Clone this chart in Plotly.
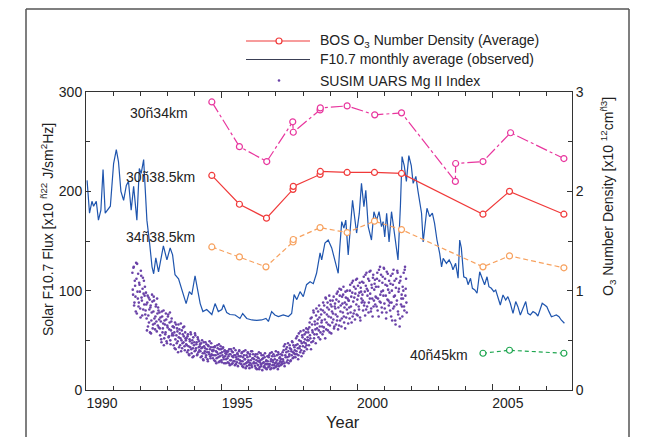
import plotly.graph_objects as go

# ---------------- data ----------------
f107_years = [1989.45, 1989.54, 1989.63, 1989.69, 1989.79, 1989.87, 1989.96, 1990.04, 1990.12, 1990.24,
              1990.31, 1990.43, 1990.53, 1990.61, 1990.70, 1990.80, 1990.90, 1990.98, 1991.08, 1991.17,
              1991.29, 1991.38, 1991.45, 1991.54, 1991.60, 1991.66, 1991.76, 1991.85, 1991.91, 1991.99,
              1992.09, 1992.15, 1992.27, 1992.40, 1992.52, 1992.61, 1992.70, 1992.83, 1992.95, 1993.11,
              1993.23, 1993.32, 1993.44, 1993.53, 1993.63, 1993.73, 1993.87, 1994.06, 1994.18, 1994.30,
              1994.43, 1994.49, 1994.61, 1994.73, 1994.92, 1995.10, 1995.20, 1995.35, 1995.54, 1995.72,
              1995.90, 1996.06, 1996.15, 1996.27, 1996.39, 1996.52, 1996.70, 1996.89, 1997.01, 1997.10,
              1997.20, 1997.32, 1997.44, 1997.56, 1997.69, 1997.81, 1997.93, 1998.06, 1998.12, 1998.24,
              1998.36, 1998.49, 1998.61, 1998.73, 1998.79, 1998.86, 1998.94, 1999.01, 1999.10, 1999.19,
              1999.26, 1999.35, 1999.41, 1999.51, 1999.59, 1999.68, 1999.75, 1999.84, 1999.96, 2000.05,
              2000.15, 2000.24, 2000.33, 2000.39, 2000.45, 2000.52, 2000.61, 2000.70, 2000.79, 2000.86,
              2000.94, 2001.03, 2001.09, 2001.17, 2001.25, 2001.34, 2001.43, 2001.50, 2001.60, 2001.68,
              2001.75, 2001.81, 2001.87, 2001.93, 2002.01, 2002.11, 2002.21, 2002.29, 2002.38, 2002.48,
              2002.55, 2002.61, 2002.73, 2002.83, 2002.92, 2002.97, 2003.07, 2003.16, 2003.22, 2003.28,
              2003.37, 2003.47, 2003.53, 2003.62, 2003.69, 2003.78, 2003.86, 2003.96, 2004.06, 2004.14,
              2004.23, 2004.30, 2004.39, 2004.48, 2004.55, 2004.63, 2004.72, 2004.82, 2004.92, 2005.00,
              2005.09, 2005.19, 2005.29, 2005.37, 2005.46, 2005.56, 2005.66, 2005.74, 2005.83, 2005.93,
              2006.03, 2006.11, 2006.20, 2006.27, 2006.36, 2006.44, 2006.52, 2006.61, 2006.69, 2006.79,
              2006.89, 2006.97, 2007.09]
f107_values = [211, 178, 190, 185, 190, 171, 181, 222, 178, 182,
               185, 228, 242, 230, 200, 191, 206, 210, 181, 205,
               171, 223, 218, 232, 205, 171, 148, 124, 117, 133,
               119, 128, 145, 131, 143, 136, 116, 112, 101, 87,
               99, 96, 115, 101, 87, 79, 81, 76, 87, 79,
               81, 86, 78, 76, 75.5, 72, 77, 72, 70.5, 70,
               70.5, 72, 69, 79, 75.5, 74, 75.5, 74, 77, 96,
               91, 99, 94, 106, 109, 107, 117.5, 138, 131, 148,
               151, 143, 131, 117.5, 144, 169.5, 163, 171, 136, 168,
               191, 171, 158, 178, 208, 184.5, 201, 164.5, 151, 179.5,
               171, 179.5, 164.5, 169.5, 154, 178, 149, 179.5, 161, 149,
               131, 186, 235, 226, 210, 236, 226, 208, 215, 200,
               188, 178, 149, 163, 183, 174.5, 178, 168, 151, 137.5,
               124, 132.5, 127.5, 131, 126, 121, 127.5, 112.5, 151, 143,
               114, 112.5, 106, 112.5, 102.4, 100.7, 97.4, 119, 111, 106,
               114, 104, 102.4, 99, 100.7, 94, 85.6, 95.7, 90.6, 94,
               87.3, 77.2, 89, 83.9, 75.5, 82.3, 89, 77.2, 75.5, 78.9,
               77.2, 74.5, 82.3, 87.3, 85.6, 83.9, 78.9, 73.8, 74.5, 75.5,
               73.8, 70.5, 67.2]

# SUSIM UARS Mg II index (scaled to left axis); two interleaved read-offs of the dot cloud,
# each sampled every 0.025 yr
mg_start_a = 1991.125
mg_start_b = 1991.1375
mg_step = 0.025
mg_values_a = [
    118, 96, 124, 88, 105, 79, 112, 127, 92, 84, 108, 99, 73, 115, 90, 102, 81, 110, 95, 76,
    98, 72, 88, 64, 93, 81, 58, 85, 70, 96, 62, 79, 90, 67, 74, 86, 59, 77, 83, 63,
    78, 55, 69, 48, 74, 62, 80, 52, 66, 58, 71, 47, 63, 76, 54, 68, 50, 60, 72, 57,
    64, 45, 58, 68, 41, 55, 62, 49, 66, 43, 57, 52, 39, 60, 47, 63, 54, 44, 58, 50,
    52, 38, 56, 44, 35, 49, 58, 41, 47, 33, 53, 45, 39, 55, 42, 48, 36, 51, 43, 40,
    46, 33, 42, 50, 37, 30, 44, 39, 48, 35, 41, 31, 45, 38, 49, 34, 43, 36, 40, 32,
    40, 30, 44, 35, 27, 38, 42, 33, 46, 29, 37, 41, 28, 35, 43, 31, 39, 34, 27, 36,
    38, 28, 34, 41, 25, 36, 30, 39, 27, 33, 42, 29, 35, 26, 31, 37, 24, 34, 40, 30,
    34, 26, 38, 29, 23, 35, 31, 40, 27, 24, 33, 37, 28, 22, 36, 30, 25, 39, 32, 27,
    31, 24, 36, 27, 21, 33, 29, 38, 23, 30, 26, 35, 20, 32, 28, 24, 37, 22, 30, 26,
    29, 23, 35, 26, 21, 31, 38, 25, 28, 22, 34, 27, 39, 24, 30, 21, 36, 27, 33, 25,
    31, 26, 38, 29, 44, 24, 35, 41, 28, 33, 47, 27, 36, 42, 30, 39, 49, 32, 45, 37,
    40, 33, 52, 36, 46, 31, 57, 42, 38, 49, 34, 55, 44, 60, 39, 51, 47, 62, 41, 53,
    58, 45, 68, 52, 41, 73, 60, 49, 78, 56, 66, 47, 82, 62, 71, 53, 85, 64, 58, 76,
    70, 56, 88, 63, 78, 52, 92, 68, 83, 60, 74, 95, 65, 86, 57, 79, 90, 71, 62, 84,
    82, 66, 97, 74, 61, 89, 102, 70, 85, 64, 94, 78, 104, 68, 88, 99, 73, 81, 92, 67,
    90, 72, 106, 84, 68, 98, 110, 77, 93, 71, 102, 86, 112, 75, 95, 81, 108, 70, 99, 88,
    96, 80, 114, 88, 75, 105, 118, 84, 100, 78, 110, 92, 120, 82, 103, 74, 116, 90, 107, 86,
    104, 84, 118, 92, 74, 110, 124, 88, 99, 78, 114, 95, 122, 82, 106, 72, 119, 91, 101, 85,
    98, 80, 115, 88, 70, 106, 121, 84, 95, 66, 112, 90, 118, 76, 102, 64, 110, 86, 96, 74,
    92, 118, 80, 124, 102, 88]
mg_values_b = [
    101, 123, 85, 110, 94, 128, 77, 99, 117, 88, 106, 82, 120, 93, 75, 113, 97, 86, 104, 80,
    86, 60, 95, 75, 68, 91, 83, 57, 78, 89, 66, 94, 72, 61, 84, 69, 92, 65, 80, 71,
    62, 73, 51, 79, 58, 67, 45, 70, 56, 77, 49, 65, 74, 53, 61, 78, 46, 69, 55, 64,
    55, 63, 42, 51, 66, 47, 59, 38, 53, 61, 45, 67, 50, 42, 56, 48, 64, 40, 52, 46,
    45, 54, 40, 36, 51, 43, 56, 37, 50, 42, 34, 48, 57, 40, 46, 35, 53, 38, 49, 44,
    39, 47, 34, 43, 31, 48, 37, 42, 33, 46, 38, 29, 44, 36, 41, 32, 47, 35, 39, 43,
    35, 43, 29, 39, 32, 45, 36, 28, 41, 34, 44, 30, 38, 42, 33, 27, 40, 37, 31, 39,
    32, 39, 27, 36, 30, 41, 26, 34, 38, 29, 35, 25, 40, 33, 28, 36, 31, 39, 27, 34,
    29, 37, 24, 33, 39, 26, 31, 22, 35, 28, 38, 30, 25, 34, 27, 39, 23, 32, 36, 28,
    27, 34, 22, 30, 36, 25, 32, 21, 28, 37, 24, 31, 27, 35, 23, 33, 26, 29, 21, 34,
    26, 33, 24, 37, 29, 22, 34, 30, 36, 25, 31, 23, 28, 35, 26, 38, 24, 32, 29, 36,
    28, 35, 31, 40, 27, 46, 33, 38, 43, 30, 39, 34, 45, 29, 41, 35, 48, 38, 33, 43,
    36, 45, 39, 54, 42, 35, 50, 44, 59, 40, 47, 53, 37, 48, 56, 43, 58, 45, 50, 61,
    50, 63, 55, 72, 48, 66, 58, 80, 52, 69, 61, 75, 56, 67, 79, 60, 73, 51, 81, 68,
    64, 80, 59, 85, 71, 93, 61, 76, 88, 66, 81, 58, 90, 73, 84, 68, 77, 94, 64, 87,
    76, 91, 70, 99, 83, 65, 95, 79, 101, 72, 87, 96, 74, 83, 62, 93, 86, 100, 77, 90,
    83, 100, 78, 94, 108, 74, 89, 104, 80, 97, 111, 76, 91, 105, 84, 98, 73, 103, 92, 109,
    90, 108, 85, 99, 116, 81, 102, 95, 112, 88, 119, 97, 79, 106, 92, 113, 84, 101, 111, 94,
    93, 112, 80, 104, 121, 89, 96, 116, 83, 108, 100, 123, 87, 112, 95, 78, 105, 117, 90, 110,
    88, 107, 74, 100, 117, 82, 94, 110, 70, 103, 86, 120, 79, 99, 108, 72, 114, 92, 84, 104,
    100, 84, 121, 95, 112, 78]
mg_years = ([mg_start_a + mg_step * i for i in range(len(mg_values_a))]
            + [mg_start_b + mg_step * i for i in range(len(mg_values_b))])
mg_values = mg_values_a + mg_values_b

# BOS O3 number density [x10^12 cm^-3] (right axis)
bos_30_34_years = [1994.06, 1995.08, 1996.09, 1997.05, 1997.07, 1998.06, 1998.07, 1999.06,
                   2000.08, 2001.07, 2003.06, 2003.07, 2004.08, 2005.10, 2007.07]
bos_30_34_vals = [2.90, 2.45, 2.30, 2.70, 2.595, 2.82, 2.84, 2.86, 2.77, 2.79, 2.10, 2.28, 2.30, 2.59, 2.33]

bos_30_385_years = [1994.06, 1995.08, 1996.08, 1997.06, 1997.07, 1998.06, 1998.07, 1999.06,
                    2000.07, 2001.07, 2004.08, 2005.06, 2007.07]
bos_30_385_vals = [2.16, 1.87, 1.73, 2.02, 2.05, 2.17, 2.20, 2.19, 2.19, 2.18, 1.77, 2.00, 1.77]

bos_34_385_years = [1994.06, 1995.08, 1996.06, 1997.06, 1997.07, 1998.06, 1999.06,
                    2000.07, 2001.07, 2004.08, 2005.06, 2007.07]
bos_34_385_vals = [1.44, 1.34, 1.24, 1.49, 1.515, 1.635, 1.585, 1.70, 1.615, 1.24, 1.35, 1.23]

bos_40_45_years = [2004.08, 2005.06, 2007.07]
bos_40_45_vals = [0.37, 0.40, 0.37]

x_labels = [1990, 1995, 2000, 2005]
x_minor_ticks = [1990.43 + k for k in range(17)]
x_major_ticks = [1994.43, 1999.43, 2004.43]

# ---------------- styling / layout helpers ----------------
# page is rendered with an 8px body margin, so the figure is sized/offset to compensate
OFF = 8
W, H = 647 - OFF, 437 - OFF
PL, PR, PT, PB = 86, 572, 92, 390  # plot area edges in page pixels
FONT = "Liberation Sans, Arial, Helvetica, sans-serif"
TXT = "#222222"
AX = "#333333"


def px(x):
    return (x - PL) / (PR - PL)


def py(y):
    return (PB - y) / (PB - PT)


fig = go.Figure()

# Mg II index dots
fig.add_trace(go.Scatter(x=mg_years, y=mg_values, mode="markers",
                         marker=dict(size=2.6, color="#6a42a8", symbol="circle", line=dict(width=0)),
                         showlegend=False, hoverinfo="skip"))

# F10.7 line
fig.add_trace(go.Scatter(x=f107_years, y=f107_values, mode="lines",
                         line=dict(color="#1f55ae", width=1.2), showlegend=False))

bos_series = [
    (bos_30_34_years, bos_30_34_vals, "#e8369e", "12px,3px,3px,3px"),
    (bos_30_385_years, bos_30_385_vals, "#f03a3a", "solid"),
    (bos_34_385_years, bos_34_385_vals, "#f7a15e", "5px,3px"),
    (bos_40_45_years, bos_40_45_vals, "#1fa650", "4px,3px"),
]
for xs, ys, col, dash in bos_series:
    fig.add_trace(go.Scatter(x=xs, y=ys, yaxis="y2", mode="lines+markers",
                             line=dict(color=col, width=1.2, dash=dash),
                             marker=dict(symbol="circle", size=6, color="white",
                                         line=dict(color=col, width=1.2)),
                             showlegend=False))

# invisible trace to host the tick-only x axis
fig.add_trace(go.Scatter(x=[None], y=[None], xaxis="x3", showlegend=False, hoverinfo="skip"))

xr = [1989.41, 2007.37]

fig.update_layout(
    width=W, height=H,
    margin=dict(l=PL - OFF, r=W - (PR - OFF), t=PT - OFF, b=H - (PB - OFF), pad=0),
    paper_bgcolor="white", plot_bgcolor="white",
    font=dict(family=FONT, size=14, color=TXT),
    xaxis=dict(range=xr, tickvals=x_labels, ticks="", showgrid=False, zeroline=False,
               showline=True, linecolor=AX, linewidth=1, mirror=True,
               tickfont=dict(size=14, color=TXT)),
    xaxis3=dict(range=xr, overlaying="x", anchor="y", side="bottom", showgrid=False, zeroline=False,
                showticklabels=False, showline=True, linecolor=AX, linewidth=1, mirror="ticks",
                tickvals=x_major_ticks, ticks="inside", ticklen=6, tickcolor=AX,
                minor=dict(tickvals=x_minor_ticks, ticks="inside", ticklen=4, tickcolor=AX)),
    yaxis=dict(range=[0, 300], tickvals=[0, 100, 200, 300], ticks="inside", ticklen=5, tickcolor=AX,
               showgrid=False, zeroline=False, showline=True, linecolor=AX, linewidth=1,
               minor=dict(tickvals=[50, 150, 250], ticks="inside", ticklen=4, tickcolor=AX),
               tickfont=dict(size=14, color=TXT)),
    yaxis2=dict(range=[0, 3], overlaying="y", side="right", anchor="x",
                tickvals=[0, 1, 2, 3], ticks="inside", ticklen=5, tickcolor=AX,
                showgrid=False, zeroline=False, showline=True, linecolor=AX, linewidth=1,
                minor=dict(tickvals=[0.5, 1.5, 2.5], ticks="inside", ticklen=4, tickcolor=AX),
                tickfont=dict(size=14, color=TXT)),
    showlegend=False,
)

annotations = []
shapes = []

# axis titles
annotations.append(dict(xref="paper", yref="paper", x=px(47), y=py(230), textangle=-90,
                        text="Solar F10.7 Flux [x10 <sup>ñ22</sup> J/sm<sup>2</sup>Hz]",
                        showarrow=False, font=dict(size=14, color=TXT), xanchor="center", yanchor="middle"))
annotations.append(dict(xref="paper", yref="paper", x=px(608), y=py(197), textangle=-90,
                        text="O<sub>3</sub> Number Density [x10 <sup>12</sup>cm<sup>ñ3</sup>]",
                        showarrow=False, font=dict(size=14, color=TXT), xanchor="center", yanchor="middle"))
annotations.append(dict(xref="paper", yref="paper", x=px(343), y=py(422), text="Year",
                        showarrow=False, font=dict(size=16.5, color=TXT), xanchor="center", yanchor="middle"))

# altitude labels
for txt, x0, yc in [("30ñ34km", 128, 113), ("30ñ38.5km", 124, 177), ("34ñ38.5km", 124, 237),
                    ("40ñ45km", 408, 355)]:
    annotations.append(dict(xref="paper", yref="paper", x=px(x0), y=py(yc), text=txt, showarrow=False,
                            font=dict(size=14, color=TXT), xanchor="left", yanchor="middle"))

# manual legend
leg_rows = [
    ("BOS O<sub>3</sub> Number Density (Average)", 41, "#f03a3a"),
    ("F10.7 monthly average (observed)", 59.5, "#3a3f55"),
    ("SUSIM UARS Mg II Index", 80.5, None),
]
for txt, yc, col in leg_rows:
    annotations.append(dict(xref="paper", yref="paper", x=px(318), y=py(yc), text=txt, showarrow=False,
                            font=dict(size=14, color=TXT), xanchor="left", yanchor="middle"))
    if col:
        shapes.append(dict(type="line", xref="paper", yref="paper", x0=px(246), x1=px(310),
                           y0=py(yc), y1=py(yc), line=dict(color=col, width=1.2)))
# legend markers
shapes.append(dict(type="circle", xref="paper", yref="paper", x0=px(276), x1=px(282),
                   y0=py(44), y1=py(38), fillcolor="white", line=dict(color="#f03a3a", width=1.2)))
shapes.append(dict(type="circle", xref="paper", yref="paper", x0=px(277.7), x1=px(280.3),
                   y0=py(81.8), y1=py(79.2), fillcolor="#6a42a8", line=dict(width=0)))

# outer figure frame (left, top, right edges)
frame_col = "#555555"
shapes.append(dict(type="line", xref="paper", yref="paper", x0=px(26), x1=px(26), y0=py(9), y1=py(450),
                   line=dict(color=frame_col, width=1.5)))
shapes.append(dict(type="line", xref="paper", yref="paper", x0=px(26), x1=px(629), y0=py(9), y1=py(9),
                   line=dict(color=frame_col, width=1.5)))
shapes.append(dict(type="line", xref="paper", yref="paper", x0=px(629), x1=px(629), y0=py(9), y1=py(450),
                   line=dict(color=frame_col, width=1.5)))

fig.update_layout(annotations=annotations, shapes=shapes)
fig.write_html("out.html")
